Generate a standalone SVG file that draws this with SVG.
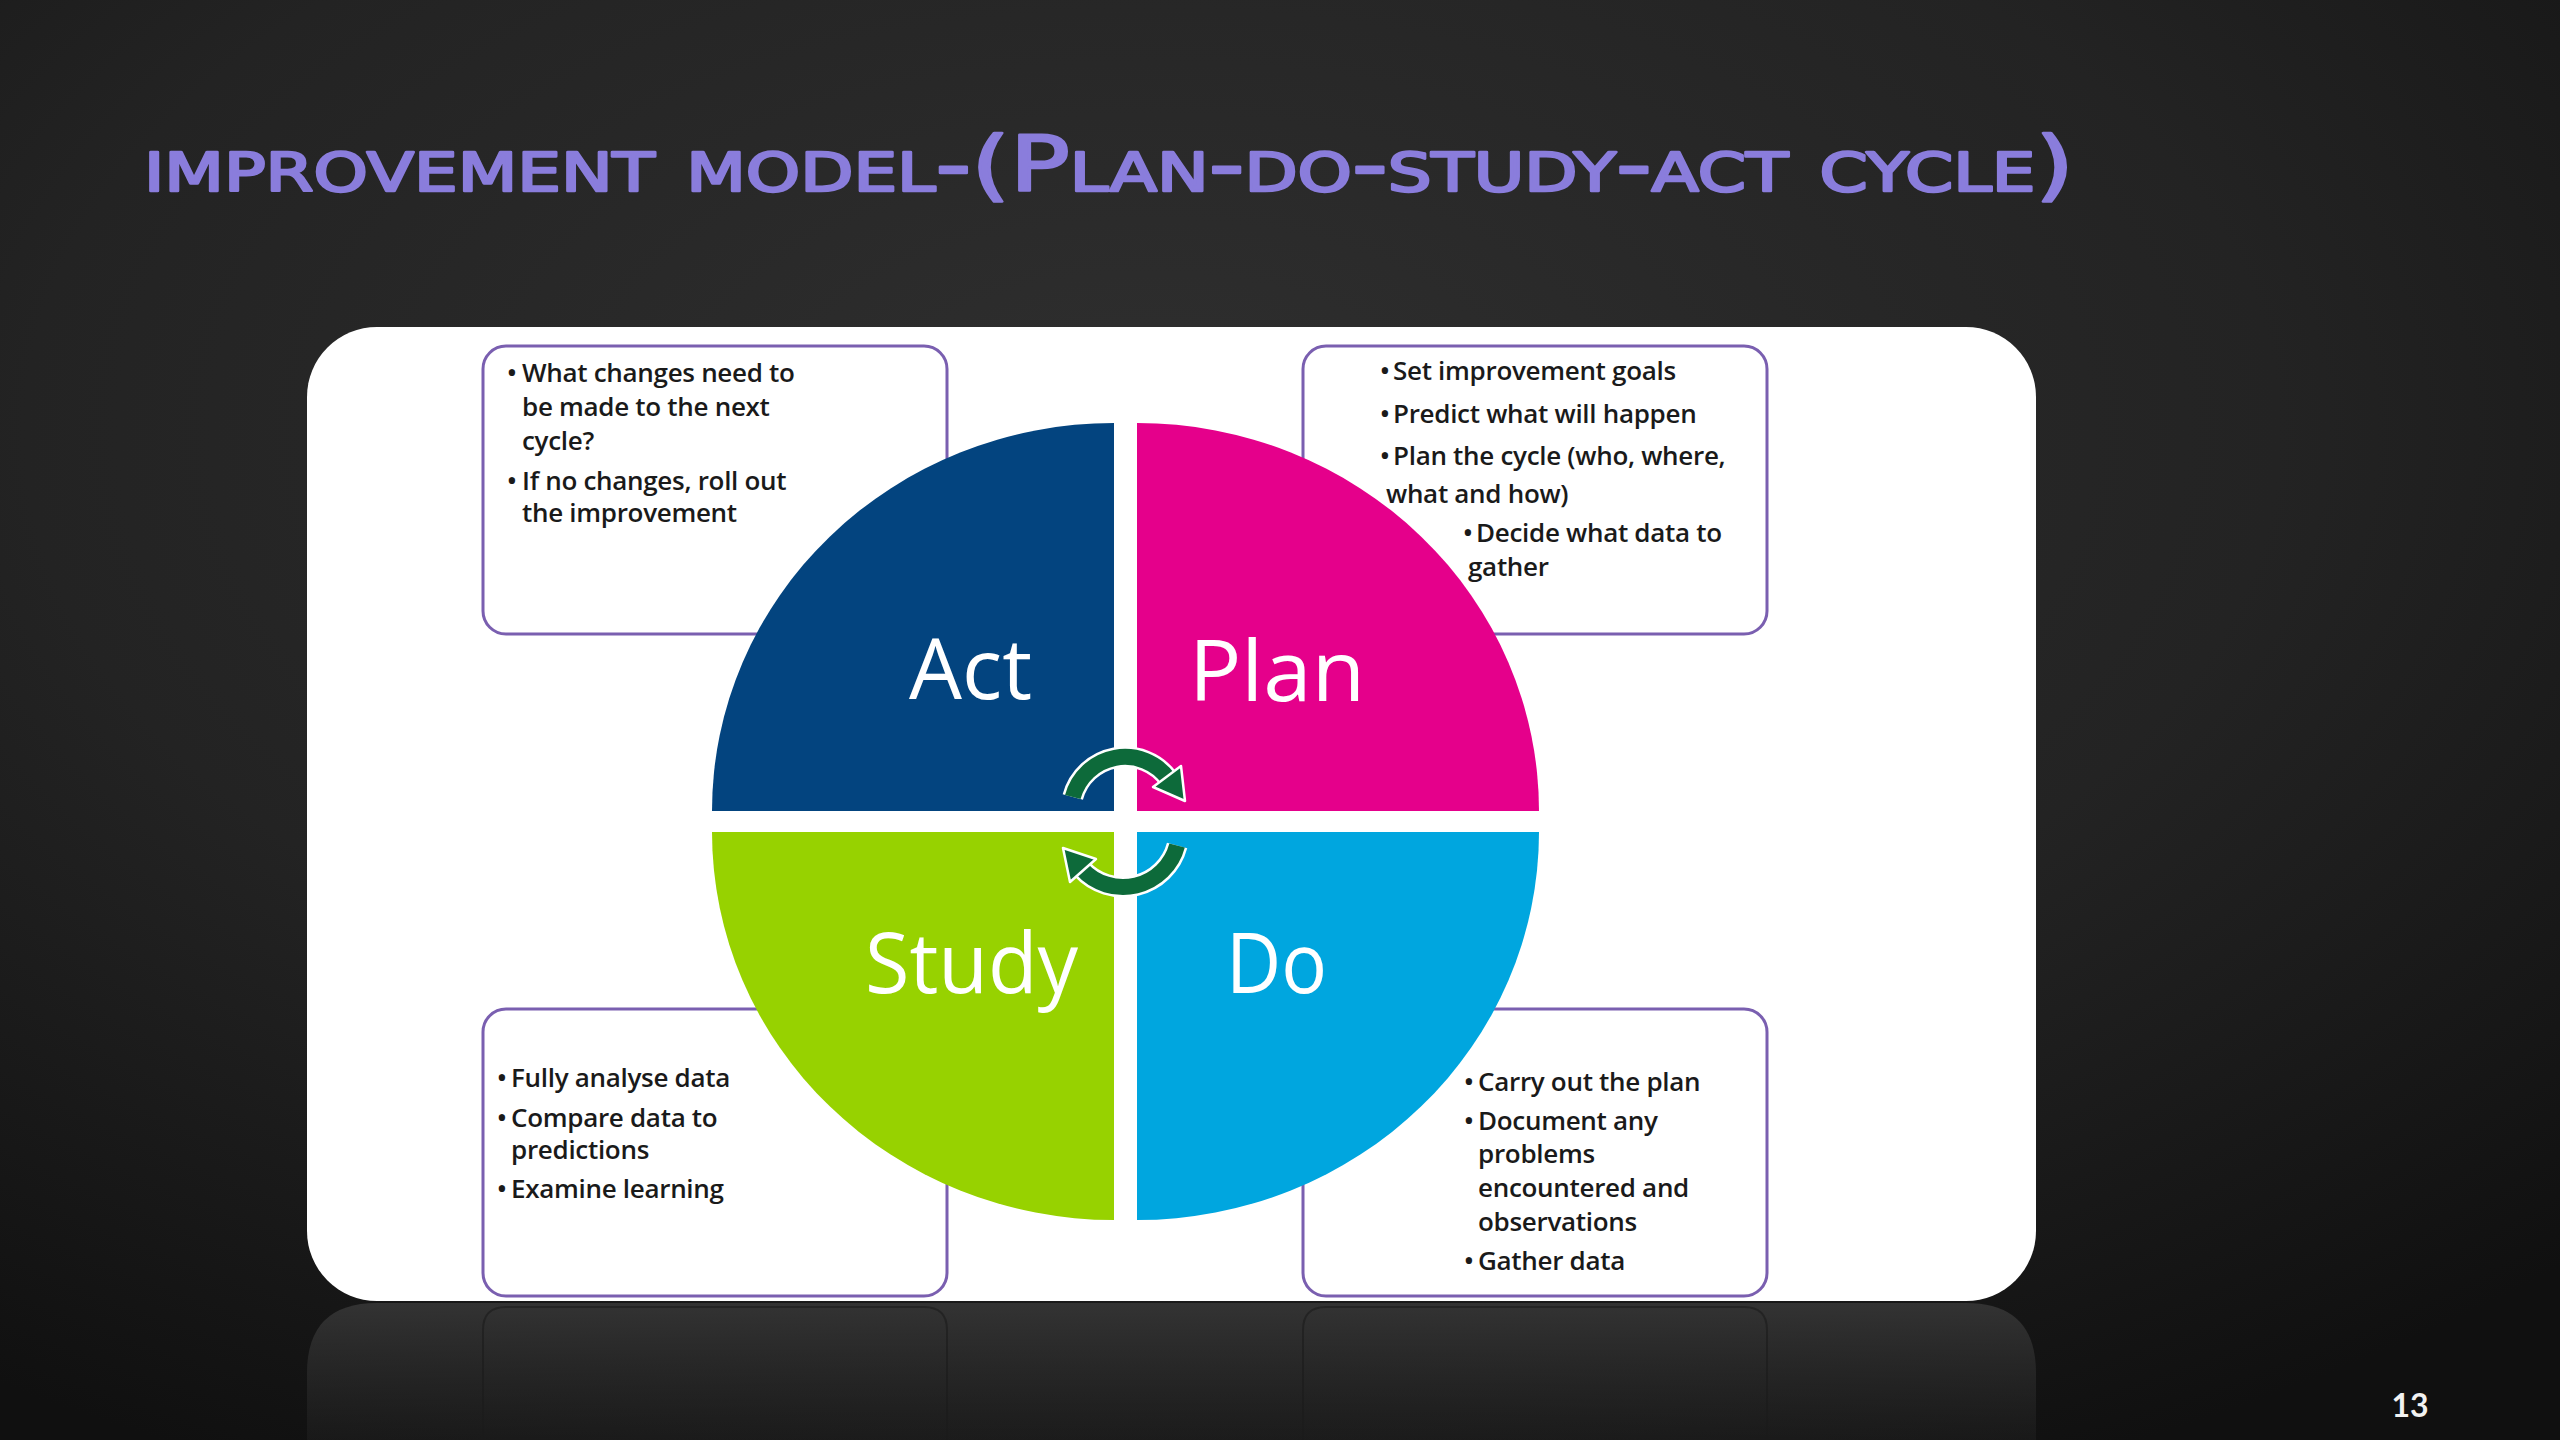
<svg xmlns="http://www.w3.org/2000/svg" width="2560" height="1440" viewBox="0 0 2560 1440">
<defs>
<radialGradient id="bg" cx="0.45" cy="0.3" r="0.8">
<stop offset="0" stop-color="#2f2f2f"/>
<stop offset="0.55" stop-color="#232323"/>
<stop offset="1" stop-color="#101010"/>
</radialGradient>
<linearGradient id="refl" x1="0" y1="0" x2="0" y2="1">
<stop offset="0" stop-color="#363636" stop-opacity="0.9"/>
<stop offset="1" stop-color="#2a2a2a" stop-opacity="0.3"/>
</linearGradient>
<style>
.box{fill:#ffffff;stroke:#7a5fb0;stroke-width:3}
.rbox{fill:none;stroke:#1a1a1a;stroke-width:2;opacity:0.6}
.txt{font-family:"Open Sans","Liberation Sans",sans-serif;font-size:26px;font-weight:600;fill:#1a1a1a;letter-spacing:-0.3px}
.lbl{font-family:"Open Sans","Liberation Sans",sans-serif;font-size:84px;fill:#ffffff}
.arcw{fill:none;stroke:#ffffff;stroke-width:21}
.arcg{fill:none;stroke:#0d6a3a;stroke-width:16}
.headg{fill:#0d6a3a;stroke:#ffffff;stroke-width:2.5;stroke-linejoin:round}
</style>
</defs>
<rect x="0" y="0" width="2560" height="1440" fill="url(#bg)"/>

<text x="144" y="191" font-family="DejaVu Sans, sans-serif" font-size="76" font-variant="small-caps" fill="#8a7ddc" stroke="#8a7ddc" stroke-width="2.5" stroke-linejoin="round" textLength="1930" lengthAdjust="spacingAndGlyphs">improvement model-(Plan-do-study-act cycle)</text>

<g id="reflection">
<path d="M 377 1303 L 1966 1303 Q 2036 1303 2036 1373 L 2036 1440 L 307 1440 L 307 1373 Q 307 1303 377 1303 Z" fill="url(#refl)"/>
<path class="rbox" d="M 483 1440 L 483 1330 Q 483 1307 506 1307 L 924 1307 Q 947 1307 947 1330 L 947 1440"/>
<path class="rbox" d="M 1303 1440 L 1303 1330 Q 1303 1307 1326 1307 L 1744 1307 Q 1767 1307 1767 1330 L 1767 1440"/>
</g>

<g id="panel">
<rect x="307" y="327" width="1729" height="974" rx="70" ry="70" fill="#ffffff"/>
</g>

<g id="box-act">
<rect class="box" x="483" y="346" width="464" height="288" rx="23"/>
<text class="txt" y="382"><tspan x="507">•</tspan><tspan x="522">What changes need to</tspan></text>
<text class="txt" x="522" y="416">be made to the next</text>
<text class="txt" x="522" y="450">cycle?</text>
<text class="txt" y="490"><tspan x="507">•</tspan><tspan x="522">If no changes, roll out</tspan></text>
<text class="txt" x="522" y="522">the improvement</text>
</g>

<g id="box-plan">
<rect class="box" x="1303" y="346" width="464" height="288" rx="23"/>
<text class="txt" y="380"><tspan x="1380">•</tspan><tspan x="1393">Set improvement goals</tspan></text>
<text class="txt" y="423"><tspan x="1380">•</tspan><tspan x="1393">Predict what will happen</tspan></text>
<text class="txt" y="465"><tspan x="1380">•</tspan><tspan x="1393">Plan the cycle (who, where,</tspan></text>
<text class="txt" x="1386" y="503">what and how)</text>
<text class="txt" y="542"><tspan x="1463">•</tspan><tspan x="1476">Decide what data to</tspan></text>
<text class="txt" x="1468" y="576">gather</text>
</g>

<g id="box-study">
<rect class="box" x="483" y="1009" width="464" height="287" rx="23"/>
<text class="txt" y="1087"><tspan x="497">•</tspan><tspan x="511">Fully analyse data</tspan></text>
<text class="txt" y="1127"><tspan x="497">•</tspan><tspan x="511">Compare data to</tspan></text>
<text class="txt" x="511" y="1159">predictions</text>
<text class="txt" y="1198"><tspan x="497">•</tspan><tspan x="511">Examine learning</tspan></text>
</g>

<g id="box-do">
<rect class="box" x="1303" y="1009" width="464" height="287" rx="23"/>
<text class="txt" y="1091"><tspan x="1464">•</tspan><tspan x="1478">Carry out the plan</tspan></text>
<text class="txt" y="1130"><tspan x="1464">•</tspan><tspan x="1478">Document any</tspan></text>
<text class="txt" x="1478" y="1163">problems</text>
<text class="txt" x="1478" y="1197">encountered and</text>
<text class="txt" x="1478" y="1231">observations</text>
<text class="txt" y="1270"><tspan x="1464">•</tspan><tspan x="1478">Gather data</tspan></text>
</g>

<g id="act">
<path d="M 1114 811 L 712 811 A 402 388 0 0 1 1114 423 Z" fill="#03447f"/>
<text class="lbl" x="909" y="699" textLength="123" lengthAdjust="spacingAndGlyphs">Act</text>
</g>
<g id="plan">
<path d="M 1137 811 L 1137 423 A 402 388 0 0 1 1539 811 Z" fill="#e5008b"/>
<text class="lbl" x="1189" y="701" textLength="176" lengthAdjust="spacingAndGlyphs">Plan</text>
</g>
<g id="study">
<path d="M 1114 832 L 1114 1220 A 402 388 0 0 1 712 832 Z" fill="#97d200"/>
<text class="lbl" x="865" y="993" textLength="213" lengthAdjust="spacingAndGlyphs">Study</text>
</g>
<g id="do">
<path d="M 1137 832 L 1539 832 A 402 388 0 0 1 1137 1220 Z" fill="#00a6df"/>
<text class="lbl" x="1226" y="993" textLength="101" lengthAdjust="spacingAndGlyphs">Do</text>
</g>

<g id="connectors">
<path class="arcw" d="M 1072.8 797 A 54 54 0 0 1 1168.7 779.2"/>
<path class="arcg" d="M 1072.8 797 A 54 54 0 0 1 1168.7 779.2"/>
<polygon class="headg" points="1185,801 1181,766 1153,787"/>
<path class="arcw" d="M 1177.1 845.5 A 56 56 0 0 1 1081.4 868.5"/>
<path class="arcg" d="M 1177.1 845.5 A 56 56 0 0 1 1081.4 868.5"/>
<polygon class="headg" points="1063,848 1070,882 1096,859"/>
</g>

<text x="2410" y="1417" font-family="Lato, 'Open Sans', sans-serif" font-size="32" font-weight="bold" fill="#f2f2f2" text-anchor="middle">13</text>
</svg>
